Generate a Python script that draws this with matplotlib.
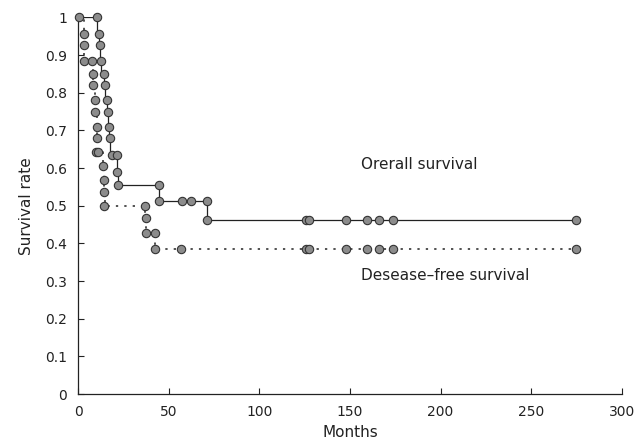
import matplotlib
matplotlib.use("Agg")
import matplotlib.pyplot as plt

# Overall survival: step path (steps-post) and marker points
os_t = [0, 10.2, 11.3, 11.9, 12.4, 14.0, 14.6, 15.7, 16.3, 16.9, 17.4, 21.4, 21.9, 44.6, 70.8, 275]
os_v = [1.0, 0.956, 0.927, 0.884, 0.85, 0.82, 0.78, 0.75, 0.71, 0.68, 0.635, 0.59, 0.555, 0.513, 0.462, 0.462]
os_mt = [0.5, 10.2, 11.3, 11.9, 12.4, 14.0, 14.6, 15.7, 16.3, 16.9, 17.4, 18.5, 21.4, 21.4, 21.9, 44.6, 44.6,
         57, 62, 70.8, 70.8, 125.5, 127.5, 147.8, 159.2, 166.2, 173.9, 275]
os_mv = [1.0, 1.0, 0.956, 0.927, 0.884, 0.85, 0.82, 0.78, 0.75, 0.71, 0.68, 0.635, 0.635, 0.59, 0.555, 0.555, 0.513,
         0.513, 0.513, 0.513, 0.462, 0.462, 0.462, 0.462, 0.462, 0.462, 0.462, 0.462]

# Disease-free survival
dfs_t = [0, 3.0, 3.1, 3.2, 8.0, 8.3, 9.1, 9.4, 10.2, 10.5, 11.0, 13.4, 14.0, 14.3, 14.5, 37.0, 37.3, 42.3, 275]
dfs_v = [1.0, 0.956, 0.927, 0.884, 0.85, 0.82, 0.78, 0.75, 0.71, 0.68, 0.643, 0.606, 0.568, 0.537, 0.50, 0.467,
         0.428, 0.385, 0.385]
dfs_mt = [3.0, 3.0, 3.0, 7.5, 8.0, 8.0, 9.1, 9.1, 10.2, 10.2, 9.5, 11.0, 13.4, 14.3, 14.3, 14.3, 36.7, 37.3, 37.3,
          42.3, 42.3, 56.5, 125.5, 127.5, 147.8, 159.2, 166.2, 173.9, 275]
dfs_mv = [0.956, 0.927, 0.884, 0.884, 0.85, 0.82, 0.78, 0.75, 0.71, 0.68, 0.643, 0.643, 0.606, 0.568, 0.537, 0.50,
          0.50, 0.467, 0.428, 0.428, 0.385, 0.385, 0.385, 0.385, 0.385, 0.385, 0.385, 0.385, 0.385]

x_ticks = [0, 50, 100, 150, 200, 250, 300]
y_ticks = [0, 0.1, 0.2, 0.3, 0.4, 0.5, 0.6, 0.7, 0.8, 0.9, 1]
y_ticklabels = ["0", "0.1", "0.2", "0.3", "0.4", "0.5", "0.6", "0.7", "0.8", "0.9", "1"]

plt.rcParams['font.family'] = ['DejaVu Sans']
fig = plt.figure(figsize=(6.37, 4.44), dpi=100)
ax = fig.add_axes([0.123, 0.1126, 0.853, 0.848])

ink = '#222222'
ax.plot(os_t, os_v, drawstyle='steps-post', color=ink, lw=0.9)
ax.plot(dfs_t, dfs_v, drawstyle='steps-post', color=ink, lw=1.1, linestyle=(0, (1.5, 4)))
mk = dict(linestyle='none', marker='o', markersize=6, markerfacecolor='#8c8c8c',
          markeredgecolor='#333333', markeredgewidth=0.8, clip_on=False, zorder=3)
ax.plot(os_mt, os_mv, **mk)
ax.plot(dfs_mt, dfs_mv, **mk)

ax.text(156, 0.61, "Orerall survival", fontsize=11, color=ink, va='center', ha='left')
ax.text(156, 0.316, "Desease\u2013free survival", fontsize=11, color=ink, va='center', ha='left')

ax.set_xlim(0, 300)
ax.set_ylim(0, 1)
ax.set_xticks(x_ticks)
ax.set_yticks(y_ticks)
ax.set_yticklabels(y_ticklabels)
ax.tick_params(axis='x', direction='in', length=4, width=0.8, labelsize=10, colors=ink, pad=8)
ax.tick_params(axis='y', direction='in', length=4, width=0.8, labelsize=10, colors=ink, pad=8)
for s in ['top', 'right']:
    ax.spines[s].set_visible(False)
for s in ['left', 'bottom']:
    ax.spines[s].set_color(ink)
    ax.spines[s].set_linewidth(0.9)
ax.set_xlabel("Months", fontsize=11, color=ink, labelpad=4)
ax.set_ylabel("Survival rate", fontsize=11, color=ink, labelpad=8)

fig.savefig("out.png", dpi=100)
